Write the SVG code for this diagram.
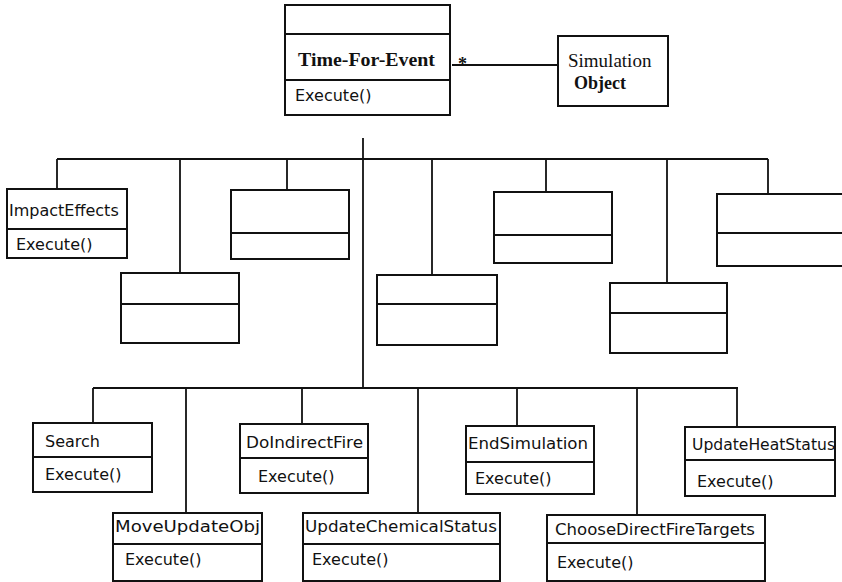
<svg xmlns="http://www.w3.org/2000/svg" width="842" height="582" viewBox="0 0 842 582">
<style>
.box{fill:#fff;stroke:#111;stroke-width:2}
.div{stroke:#111;stroke-width:2;fill:none}
.con{stroke:#111;stroke-width:1.8;fill:none}
.t{font-family:"DejaVu Sans","Liberation Sans",sans-serif;font-size:16px;fill:#111}
.sb{font-family:"Liberation Serif","Times New Roman",serif;font-weight:bold;fill:#111}
.sr{font-family:"Liberation Serif","Times New Roman",serif;fill:#111}
</style>
<rect width="842" height="582" fill="#fff"/>
<g id="connectors">
<line class="con" x1="452" y1="65" x2="558" y2="65"/>
<text class="sb" x="458" y="70" font-size="18">*</text>
<line class="con" x1="363" y1="138" x2="363" y2="388"/>
<line class="con" x1="57" y1="159" x2="768" y2="159"/>
<line class="con" x1="57" y1="159" x2="57" y2="189"/>
<line class="con" x1="180" y1="159" x2="180" y2="273"/>
<line class="con" x1="287" y1="159" x2="287" y2="190"/>
<line class="con" x1="432" y1="159" x2="432" y2="275"/>
<line class="con" x1="546" y1="159" x2="546" y2="192"/>
<line class="con" x1="667" y1="159" x2="667" y2="283"/>
<line class="con" x1="768" y1="159" x2="768" y2="194"/>
<line class="con" x1="93" y1="388" x2="738" y2="388"/>
<line class="con" x1="93" y1="388" x2="93" y2="423"/>
<line class="con" x1="186" y1="388" x2="186" y2="513"/>
<line class="con" x1="302" y1="388" x2="302" y2="424"/>
<line class="con" x1="418" y1="388" x2="418" y2="513"/>
<line class="con" x1="517" y1="388" x2="517" y2="426"/>
<line class="con" x1="637" y1="388" x2="637" y2="515"/>
<line class="con" x1="737" y1="388" x2="737" y2="427"/>
</g>
<g id="time-for-event">
<rect class="box" x="285" y="5" width="165" height="110"/>
<line class="div" x1="285" y1="34" x2="450" y2="34"/>
<line class="div" x1="285" y1="80" x2="450" y2="80"/>
<text class="sb" x="298" y="66" font-size="19" textLength="137" lengthAdjust="spacingAndGlyphs">Time-For-Event</text>
<text class="t" x="295" y="101">Execute()</text>
</g>
<g id="simulation-object">
<rect class="box" x="558" y="36" width="110" height="70"/>
<text class="sr" x="568" y="67" font-size="19">Simulation</text>
<text class="sb" x="574" y="89" font-size="18">Object</text>
</g>
<g id="impact-effects">
<rect class="box" x="7" y="189" width="120" height="69"/>
<line class="div" x1="7" y1="229" x2="127" y2="229"/>
<text class="t" x="9" y="216">ImpactEffects</text>
<text class="t" x="16" y="250">Execute()</text>
</g>
<g id="class-a">
<rect class="box" x="121" y="273" width="118" height="70"/>
<line class="div" x1="121" y1="304" x2="239" y2="304"/>
</g>
<g id="class-b">
<rect class="box" x="231" y="190" width="118" height="69"/>
<line class="div" x1="231" y1="233" x2="349" y2="233"/>
</g>
<g id="class-c">
<rect class="box" x="377" y="275" width="120" height="70"/>
<line class="div" x1="377" y1="304" x2="497" y2="304"/>
</g>
<g id="class-d">
<rect class="box" x="494" y="192" width="118" height="71"/>
<line class="div" x1="494" y1="235" x2="612" y2="235"/>
</g>
<g id="class-e">
<rect class="box" x="610" y="283" width="117" height="70"/>
<line class="div" x1="610" y1="313" x2="727" y2="313"/>
</g>
<g id="class-f">
<rect class="box" x="717" y="194" width="140" height="72"/>
<line class="div" x1="717" y1="233" x2="857" y2="233"/>
</g>
<g id="search">
<rect class="box" x="33" y="423" width="119" height="69"/>
<line class="div" x1="33" y1="457" x2="152" y2="457"/>
<text class="t" x="45" y="447">Search</text>
<text class="t" x="45" y="480">Execute()</text>
</g>
<g id="do-indirect-fire">
<rect class="box" x="240" y="424" width="128" height="69"/>
<line class="div" x1="240" y1="458" x2="368" y2="458"/>
<text class="t" x="246" y="448" textLength="117" lengthAdjust="spacingAndGlyphs">DoIndirectFire</text>
<text class="t" x="258" y="482">Execute()</text>
</g>
<g id="end-simulation">
<rect class="box" x="466" y="426" width="128" height="68"/>
<line class="div" x1="466" y1="462" x2="594" y2="462"/>
<text class="t" x="468" y="449" textLength="120" lengthAdjust="spacingAndGlyphs">EndSimulation</text>
<text class="t" x="475" y="484">Execute()</text>
</g>
<g id="update-heat-status">
<rect class="box" x="685" y="427" width="150" height="69"/>
<line class="div" x1="685" y1="460" x2="835" y2="460"/>
<text class="t" x="692" y="450" textLength="143" lengthAdjust="spacingAndGlyphs">UpdateHeatStatus</text>
<text class="t" x="697" y="487">Execute()</text>
</g>
<g id="move-update-obj">
<rect class="box" x="113" y="513" width="149" height="68"/>
<line class="div" x1="113" y1="544" x2="262" y2="544"/>
<text class="t" x="115" y="532" textLength="145" lengthAdjust="spacingAndGlyphs">MoveUpdateObj</text>
<text class="t" x="125" y="565">Execute()</text>
</g>
<g id="update-chemical-status">
<rect class="box" x="303" y="513" width="197" height="68"/>
<line class="div" x1="303" y1="544" x2="500" y2="544"/>
<text class="t" x="305" y="532" textLength="192" lengthAdjust="spacingAndGlyphs">UpdateChemicalStatus</text>
<text class="t" x="312" y="565">Execute()</text>
</g>
<g id="choose-direct-fire-targets">
<rect class="box" x="547" y="515" width="218" height="66"/>
<line class="div" x1="547" y1="543" x2="765" y2="543"/>
<text class="t" x="555" y="535" textLength="200" lengthAdjust="spacingAndGlyphs">ChooseDirectFireTargets</text>
<text class="t" x="557" y="568">Execute()</text>
</g>
</svg>
